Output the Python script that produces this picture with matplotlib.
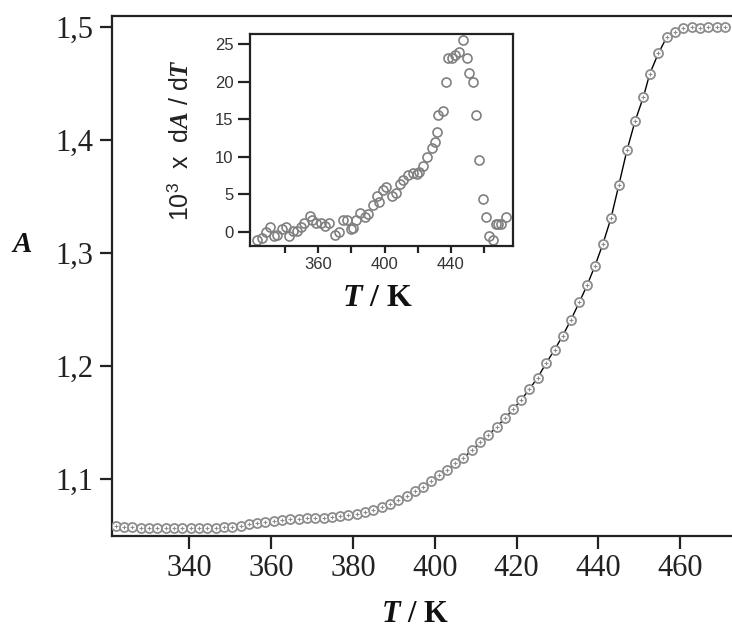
import numpy as np
import matplotlib.pyplot as plt

plt.rcParams['font.family'] = ['Liberation Serif', 'DejaVu Serif']
plt.rcParams['mathtext.fontset'] = 'custom'
plt.rcParams['mathtext.rm'] = 'Liberation Sans'
plt.rcParams['mathtext.it'] = 'Liberation Serif:italic:bold'
plt.rcParams['mathtext.bf'] = 'Liberation Serif:bold'

# main curve: absorbance A vs temperature T (K)
T_main = [322.0, 324.0, 326.0, 328.1, 330.1, 332.1, 334.2, 336.2, 338.2, 340.3,
          342.3, 344.3, 346.4, 348.4, 350.4, 352.5, 354.5, 356.5, 358.6, 360.6,
          362.6, 364.7, 366.7, 368.7, 370.8, 372.8, 374.8, 376.9, 378.9, 380.9,
          383.0, 385.0, 387.0, 389.1, 391.1, 393.2, 395.2, 397.1, 399.0, 401.1,
          402.9, 405.0, 407.0, 409.1, 411.1, 413.1, 415.2, 417.2, 419.2, 421.1,
          423.1, 425.2, 427.2, 429.3, 431.3, 433.3, 435.4, 437.3, 439.2, 441.1,
          443.1, 445.0, 447.0, 449.0, 451.0, 452.6, 454.7, 456.7, 458.8, 460.8,
          462.9, 464.9, 466.9, 469.0, 471.0]
A_main = [1.059, 1.058, 1.0575, 1.057, 1.057, 1.057, 1.0565, 1.0565, 1.057, 1.057,
          1.057, 1.057, 1.057, 1.0575, 1.058, 1.059, 1.060, 1.061, 1.062, 1.063,
          1.064, 1.0645, 1.065, 1.066, 1.066, 1.066, 1.0665, 1.067, 1.068, 1.069,
          1.071, 1.0725, 1.075, 1.078, 1.0815, 1.0855, 1.0895, 1.0935, 1.098, 1.1035,
          1.108, 1.114, 1.119, 1.1255, 1.1325, 1.139, 1.1465, 1.154, 1.162, 1.170,
          1.1795, 1.190, 1.2025, 1.2145, 1.227, 1.241, 1.257, 1.272, 1.289, 1.308,
          1.331, 1.360, 1.391, 1.417, 1.438, 1.459, 1.477, 1.491, 1.496, 1.499,
          1.5005, 1.499, 1.500, 1.5005, 1.5005]

# inset: 10^3 x dA/dT vs T
T_ins = [323.2, 325.8, 328.2, 330.7, 333.3, 335.3, 338.3, 340.3, 342.3, 344.9,
         347.3, 349.7, 351.3, 354.7, 356.3, 358.9, 361.9, 364.3, 366.7, 370.0,
         372.4, 374.8, 377.4, 379.6, 381.1, 382.7, 385.1, 388.2, 390.2, 392.8,
         395.2, 396.6, 399.2, 400.6, 404.2, 406.8, 409.3, 411.3, 414.3, 417.3,
         419.3, 420.9, 423.4, 425.4, 428.4, 430.4, 431.4, 432.4, 435.0, 437.0,
         438.4, 440.4, 442.6, 445.0, 447.5, 449.5, 451.1, 453.1, 455.1, 457.1,
         459.5, 461.1, 463.1, 465.1, 467.1, 468.6, 469.9, 473.1]
D_ins = [-1.1, -0.9, 0.0, 0.6, -0.6, -0.4, 0.4, 0.6, -0.6, 0.1,
         0.1, 0.6, 1.2, 2.1, 1.6, 1.1, 1.1, 0.7, 1.1, -0.4,
         0.0, 1.6, 1.6, 0.4, 0.5, 1.6, 2.5, 2.0, 2.4, 3.6,
         4.7, 4.0, 5.6, 6.0, 4.7, 5.1, 6.4, 6.9, 7.6, 7.8,
         7.7, 8.0, 8.7, 10.0, 11.1, 12.0, 13.3, 15.6, 16.1, 20.0,
         23.1, 23.1, 23.6, 24.0, 25.6, 23.1, 21.1, 20.0, 15.6, 9.6,
         4.4, 2.0, -0.6, -1.1, 1.0, 1.0, 1.0, 2.0]

main_yticks = [1.1, 1.2, 1.3, 1.4, 1.5]
main_ylabels = ['1,1', '1,2', '1,3', '1,4', '1,5']
main_xticks = [340, 360, 380, 400, 420, 440, 460]
ins_xticks = [360, 400, 440]
ins_xminor = [340, 380, 420, 460]
ins_yticks = [0, 5, 10, 15, 20, 25]

W, H = 732, 629
fig = plt.figure(figsize=(W / 100, H / 100), dpi=100)

# ---- main axes
ax = fig.add_axes([111.7 / W, 1 - 535.7 / H, (W - 111.7) / W, (535.7 - 16) / H])
ax.plot(T_main, A_main, '-', color='black', lw=1.0, zorder=2)
ax.plot(T_main, A_main, 'o', ms=6.5, mfc='white', mec='#8c8c8c', mew=1.3, zorder=3)
ax.plot(T_main, A_main, '+', ms=3.5, mec='#8c8c8c', mew=0.8, zorder=4)
ax.set_xlim(321.0, 472.7)
ax.set_ylim(1.05, 1.51)
ax.set_xticks(main_xticks)
ax.set_yticks(main_yticks)
ax.set_yticklabels(main_ylabels)
ax.spines['right'].set_visible(False)
for s in ['left', 'top', 'bottom']:
    ax.spines[s].set_linewidth(1.6)
    ax.spines[s].set_color('#222222')
ax.tick_params(direction='out', length=9, width=1.6, color='#222222',
               labelsize=22, labelcolor='#222222', pad=4)
fig.text(415 / W, 1 - 614 / H, r'$T$ / K', fontsize=22, fontweight='bold',
         ha='center', va='center', color='#111111')
fig.text(22 / W, 1 - 245 / H, r'$A$', fontsize=21, ha='center', va='center',
         color='#111111')

# ---- inset
ins = fig.add_axes([250 / W, 1 - 246 / H, (513.3 - 250) / W, (246 - 34) / H])
ins.plot(T_ins, D_ins, 'o', ms=6.5, mfc='none', mec='#808080', mew=1.2)
ins.set_xlim(318.8, 477.6)
ins.set_ylim(-1.9, 26.36)
ins.set_xticks(ins_xticks)
ins.set_xticks(ins_xminor, minor=True)
ins.set_yticks(ins_yticks)
for s in ins.spines.values():
    s.set_linewidth(1.6)
    s.set_color('#222222')
ins.tick_params(which='both', direction='out', width=1.6, color='#222222',
                labelsize=12, labelcolor='#333333', pad=3)
ins.tick_params(axis='y', length=9)
ins.tick_params(axis='x', which='both', length=5)
for lab in ins.get_xticklabels() + ins.get_yticklabels():
    lab.set_family(['Liberation Sans', 'DejaVu Sans'])
fig.text(181 / W, 1 - 140 / H, r'10$^{3}$  x  d$A$ / d$T$', rotation=90,
         fontsize=18, ha='center', va='center', color='#222222',
         family=['Liberation Sans', 'DejaVu Sans'])
fig.text(377 / W, 1 - 298 / H, r'$T$ / K', fontsize=23, fontweight='bold',
         ha='center', va='center', color='#111111')

fig.savefig('out.png', dpi=100)
